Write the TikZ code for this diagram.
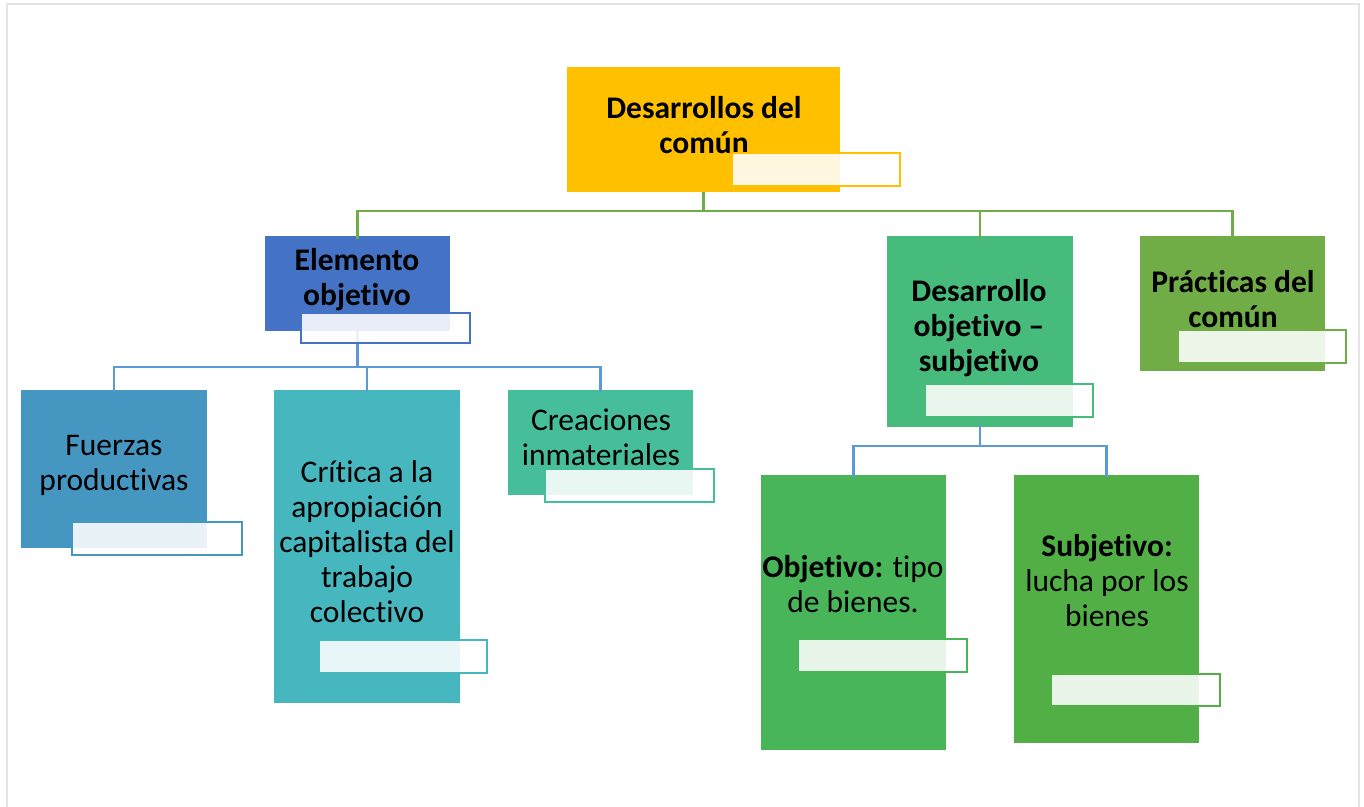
\documentclass[tikz,border=0pt]{standalone}
\usepackage{fontspec}
\setmainfont{Carlito}[Ligatures=NoCommon]
\definecolor{cTop}{RGB}{255,192,0}
\definecolor{cElem}{RGB}{68,114,196}
\definecolor{cFuer}{RGB}{70,150,194}
\definecolor{cCrit}{RGB}{70,183,190}
\definecolor{cCrea}{RGB}{70,190,155}
\definecolor{cDos}{RGB}{70,187,123}
\definecolor{cObj}{RGB}{71,181,88}
\definecolor{cSub}{RGB}{82,175,70}
\definecolor{cPrac}{RGB}{112,173,71}
\definecolor{cLineG}{RGB}{112,173,71}
\definecolor{cLineB}{RGB}{91,155,213}
\definecolor{cFrame}{RGB}{228,228,228}
\tikzset{
  boxnode/.style={rectangle, anchor=north west, inner sep=0pt, outer sep=0pt, draw=none},
  labnode/.style={rectangle, anchor=north west, inner sep=0pt, outer sep=0pt, line width=2pt, fill=white, fill opacity=0.88, draw opacity=1},
  txt/.style={align=center, inner sep=0pt, font=\fontsize{31.5}{35}\selectfont},
  btxt/.style={txt, font=\fontsize{31.5}{35}\selectfont\bfseries},
  gconn/.style={draw=cLineG, line width=2.8pt},
  bconn/.style={draw=cLineB, line width=2.6pt},
}
\begin{document}
\begin{tikzpicture}[x=1pt,y=-1pt]
\useasboundingbox (0,0) rectangle (1364,806);
\draw[cFrame, line width=2pt] (7,4) rectangle (1359,820);

% boxes
\node[boxnode, fill=cTop, minimum width=273pt, minimum height=125pt] (top) at (567,67) {};
\node[boxnode, fill=cElem, minimum width=185pt, minimum height=95pt] (elem) at (265,236) {};
\node[boxnode, fill=cFuer, minimum width=186pt, minimum height=158pt] (fuer) at (21,390) {};
\node[boxnode, fill=cCrit, minimum width=186pt, minimum height=313pt] (crit) at (274,390) {};
\node[boxnode, fill=cCrea, minimum width=185pt, minimum height=105pt] (crea) at (508,390) {};
\node[boxnode, fill=cDos, minimum width=186pt, minimum height=191pt] (dos) at (887,236) {};
\node[boxnode, fill=cPrac, minimum width=185pt, minimum height=135pt] (prac) at (1140,236) {};
\node[boxnode, fill=cObj, minimum width=185pt, minimum height=275pt] (obj) at (761,475) {};
\node[boxnode, fill=cSub, minimum width=185pt, minimum height=268pt] (sub) at (1014,475) {};

% connectors
\draw[gconn] (top.south) -- ++(0,19) coordinate (hubA) -| ([yshift=-3pt]elem.north);
\draw[gconn] (hubA) -| ([yshift=-3pt]dos.north);
\draw[gconn] (hubA) -| ([yshift=-3pt]prac.north);
\draw[bconn] (elem.south) -- ++(0,36) coordinate (hubB) -| ([yshift=-2pt]fuer.north);
\draw[bconn] (hubB) -| ([yshift=-2pt]crit.north);
\draw[bconn] (hubB) -| ([yshift=-2pt]crea.north);
\draw[bconn] ([yshift=3pt]dos.south) -- ++(0,22) coordinate (hubC) -| ([yshift=-2pt]obj.north);
\draw[bconn] (hubC) -| ([yshift=-2pt]sub.north);

% texts
\node[btxt] (topt) at (704,125) {Desarrollos del\\común};
\node[btxt] (elemt) at (357,280) {Elemento\\objetivo};
\node[txt] (fuert) at (114,465) {Fuerzas\\productivas};
\node[txt] (critt) at (367,542) {Crítica a la\\apropiación\\capitalista del\\trabajo\\colectivo};
\node[txt] (creat) at (601,437) {Creaciones\\inmateriales};
\node[btxt] (dost) at (979,328) {Desarrollo\\objetivo –\\subjetivo};
\node[btxt] (pract) at (1233,299) {Prácticas del\\común};
\node[txt] (objt) at (853,584) {\textbf{Objetivo:} tipo\\de bienes.};
\node[txt] (subt) at (1107,581) {\textbf{Subjetivo:}\\lucha por los\\bienes};

% label boxes
\node[labnode, draw=cTop, minimum width=168pt, minimum height=33pt] (topl) at (732,153) {};
\node[labnode, draw=cElem, minimum width=169pt, minimum height=30pt] (eleml) at (301,313) {};
\node[labnode, draw=cFuer, minimum width=170pt, minimum height=33pt] (fuerl) at (72,522) {};
\node[labnode, draw=cCrit, minimum width=168pt, minimum height=33pt] (critl) at (319,640) {};
\node[labnode, draw=cCrea, minimum width=169pt, minimum height=33pt] (creal) at (545,469) {};
\node[labnode, draw=cDos, minimum width=168pt, minimum height=33pt] (dosl) at (925,384) {};
\node[labnode, draw=cPrac, minimum width=168pt, minimum height=33pt] (pracl) at (1178,330) {};
\node[labnode, draw=cObj, minimum width=169pt, minimum height=33pt] (objl) at (798,639) {};
\node[labnode, draw=cSub, minimum width=169pt, minimum height=32pt] (subl) at (1051,674) {};
\end{tikzpicture}
\end{document}
